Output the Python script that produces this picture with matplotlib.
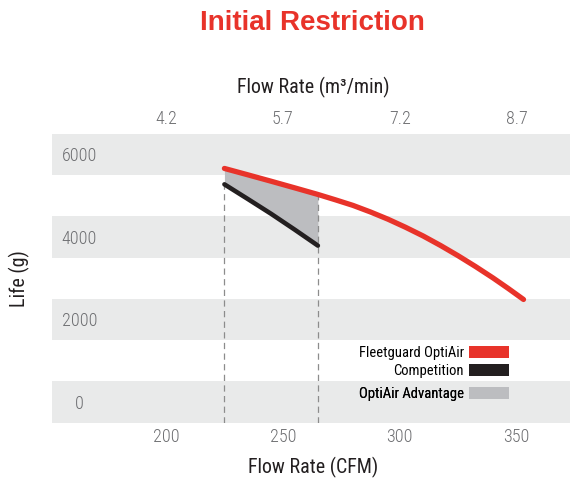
import matplotlib
matplotlib.use("Agg")
import matplotlib.pyplot as plt
from matplotlib.patches import Patch
from matplotlib import font_manager as fm

# values
cfm_ticks = [200, 250, 300, 350]
m3_labels = ["4.2", "5.7", "7.2", "8.7"]
life_ticks = [0, 2000, 4000, 6000]

optiair_cfm = [225, 235, 245, 255, 265, 272.5, 280, 287.5, 295, 302.5, 310,
               317.5, 325, 332.5, 340, 346.5, 353]
optiair_life = [5660, 5506, 5350, 5191, 5030, 4900, 4765, 4605, 4430, 4235, 4025,
                3793, 3545, 3282, 3005, 2750, 2485]

comp_cfm = [225, 235, 245, 255, 265]
comp_life = [5275, 4920, 4560, 4180, 3790]

legend_labels = ["Fleetguard OptiAir", "Competition", "OptiAir Advantage"]

RED = "#e8332a"
BLACK = "#231f20"
GREY_FILL = "#bcbdc0"
BAND = "#e9eaea"
DASH = "#8c8c8c"
TICK_GREY = "#6d6e71"


def pick(cands):
    names = {f.name for f in fm.fontManager.ttflist}
    for c in cands:
        if c in names:
            return c
    return "DejaVu Sans"


narrow = pick(["Roboto Condensed", "Archivo Narrow", "Asap Condensed", "Liberation Sans"])
plt.rcParams["font.family"] = [narrow, "DejaVu Sans"]

fig = plt.figure(figsize=(5.7, 4.83), dpi=100)
ax = fig.add_axes([0.0912, 0.125, 0.9088, 0.598])
ax.set_xlim(151.2, 372.9)
ax.set_ylim(-500, 6500)

# grey bands behind each y tick
for v in life_ticks:
    ax.axhspan(v - 500, v + 500, color=BAND, lw=0, zorder=0)

# advantage area between the two curves
n = len(comp_cfm)
ax.fill_between(comp_cfm, comp_life, optiair_life[:n], color=GREY_FILL, lw=0, zorder=2)

# dashed guides at the ends of the competition range
ax.vlines([comp_cfm[0], comp_cfm[-1]], -500, [comp_life[0], optiair_life[n - 1]],
          colors=DASH, lw=0.9, linestyles=(0, (5, 3.5)), zorder=3)

ax.plot(optiair_cfm, optiair_life, color=RED, lw=3.8, solid_capstyle="round",
        solid_joinstyle="round", zorder=5)
ax.plot(comp_cfm, comp_life, color=BLACK, lw=3.3, solid_capstyle="round",
        solid_joinstyle="round", zorder=4)

# axes styling
for s in ax.spines.values():
    s.set_visible(False)
ax.set_xticks(cfm_ticks)
ax.set_yticks(life_ticks)
ax.tick_params(axis="x", length=0, pad=3.6, labelcolor=TICK_GREY, labelsize=13)
ax.tick_params(axis="y", length=0, pad=-19.8, labelcolor=TICK_GREY, labelsize=13)
for lab in ax.get_yticklabels():
    lab.set_horizontalalignment("center")
for lab in ax.get_xticklabels() + ax.get_yticklabels():
    lab.set_fontweight("light")

ax.set_xlabel("Flow Rate (CFM)", fontsize=14.4, color=BLACK)
ax.xaxis.set_label_coords(0.504, -0.119)
ax.set_ylabel("Life (g)", fontsize=14.4, color=BLACK)
ax.yaxis.set_label_coords(-0.042, 0.5)

ax2 = ax.twiny()
ax2.set_xlim(ax.get_xlim())
ax2.set_xticks(cfm_ticks, m3_labels)
ax2.tick_params(axis="x", length=0, pad=4.3, labelcolor=TICK_GREY, labelsize=13)
for lab in ax2.get_xticklabels():
    lab.set_fontweight("light")
for s in ax2.spines.values():
    s.set_visible(False)
ax2.set_xlabel("Flow Rate (m³/min)", fontsize=14.4, color=BLACK)
ax2.xaxis.set_label_coords(0.504, 1.14)

# legend, one row each so the gaps can follow the original
handles = [Patch(facecolor=RED, lw=0), Patch(facecolor=BLACK, lw=0), Patch(facecolor=GREY_FILL, lw=0)]
row_y = [0.242, 0.179, 0.099]
for h, lab, y in zip(handles, legend_labels, row_y):
    leg = ax.legend([h], [lab], loc="center right", bbox_to_anchor=(0.882, y),
                    markerfirst=False, frameon=False, borderpad=0, borderaxespad=0,
                    handlelength=2.73, handleheight=0.95, handletextpad=0.36,
                    prop={"family": [narrow, "DejaVu Sans"], "size": 10.5})
    leg.set_zorder(6)
    ax.add_artist(leg)

fig.text(0.549, 1 - 23.5 / 483, "Initial Restriction", ha="center", va="center",
         fontsize=20, fontweight="bold", color=RED, family=["Liberation Sans", "DejaVu Sans"])

fig.savefig("out.png", dpi=100)
